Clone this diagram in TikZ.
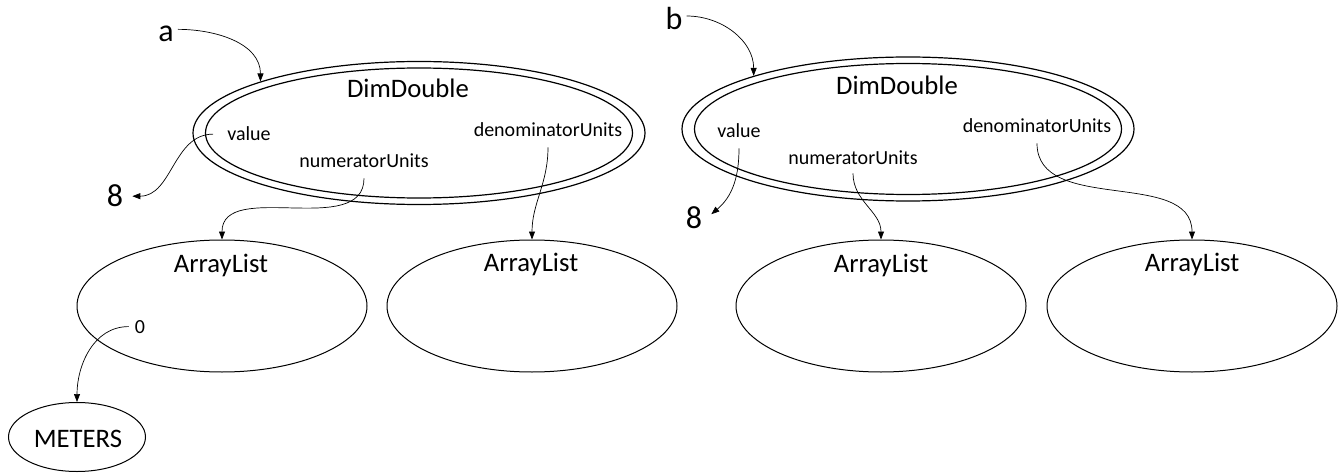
\documentclass[tikz,border=0pt]{standalone}
\usepackage{fontspec}
\setmainfont{Carlito}
\usetikzlibrary{arrows.meta,shapes.geometric}

\tikzset{
  obj/.style={draw, ellipse, inner sep=0pt, line width=1pt},
  dd/.style={obj, line width=1.2pt},
  al/.style={obj, minimum width=290pt, minimum height=132pt},
  big/.style={font=\fontsize{26.7}{32}\selectfont, anchor=base, inner sep=4pt},
  small/.style={font=\fontsize{20}{24}\selectfont, anchor=base, inner sep=4pt},
  var/.style={font=\fontsize{32}{38}\selectfont, anchor=base, inner sep=4pt},
  ref/.style={-{Triangle[length=8pt,width=6pt]}, line width=0.7pt},
}

\begin{document}
\begin{tikzpicture}[x=1pt,y=-1pt]
		\useasboundingbox (0,0) rectangle (1343,473);

		% Objeto a
		\node[dd, minimum width=452pt, minimum height=143pt] (ddA) at (419,133) {};
		\node[dd, minimum width=427pt, minimum height=130pt] (ddAin) at (419,133) {};
		\node[big] (ddAname) at (408,98) {DimDouble};
		\node[small] (valA) at (249,141) {value};
		\node[small] (numA) at (364,168) {numeratorUnits};
		\node[small] (denA) at (548,137) {denominatorUnits};
		\node[var] (varA) at (166,42) {a};
		\node[var] (eightA) at (115,207) {8};

		% Listas de a
		\node[al] (alA1) at (222,306) {};
		\node[big] (alA1name) at (221,272) {ArrayList};
		\node[small] (zeroA) at (140,333) {0};
		\node[al] (alA2) at (532,306) {};
		\node[big] (alA2name) at (531,271) {ArrayList};
		\node[obj, minimum width=137pt, minimum height=69pt] (meters) at (77,437) {};
		\node[big] (metersname) at (78,447) {METERS};

		% Objeto b
		\node[dd, minimum width=452pt, minimum height=144pt] (ddB) at (908,129) {};
		\node[dd, minimum width=427pt, minimum height=131pt] (ddBin) at (908,129) {};
		\node[big] (ddBname) at (897,95) {DimDouble};
		\node[small] (valB) at (739,138) {value};
		\node[small] (numB) at (853,165) {numeratorUnits};
		\node[small] (denB) at (1037,133) {denominatorUnits};
		\node[var] (varB) at (674,30) {b};
		\node[var] (eightB) at (694,228) {8};

		% Listas de b
		\node[al] (alB1) at (881,306) {};
		\node[big] (alB1name) at (881,272) {ArrayList};
		\node[al] (alB2) at (1192,306) {};
		\node[big] (alB2name) at (1192,271) {ArrayList};

		% Referencias de a
		\draw[ref] ([yshift=5pt]varA.east) to[out=0, in=90] (ddA.162);
		\draw[ref] ([xshift=-10pt]valA.west) to[out=180, in=0] ([xshift=5pt]eightA.east);
		\draw[ref] ([yshift=-6pt]numA.south) to[out=-90, in=90] (alA1.north);
		\draw[ref] ([yshift=-6pt]denA.south) to[out=-90, in=90] (alA2.north);
		\draw[ref] ([xshift=-2pt]zeroA.west) to[out=180, in=90] (meters.north);

		% Referencias de b
		\draw[ref] ([yshift=3pt]varB.east) to[out=0, in=90] (ddB.161);
		\draw[ref] ([yshift=-6pt]valB.south) to[out=-90, in=40] ([xshift=5pt,yshift=3pt]eightB.east);
		\draw[ref] ([yshift=-4pt]numB.south) to[out=-90, in=90] (alB1.north);
		\draw[ref] ([yshift=-6pt]denB.south) to[out=-90, in=90] (alB2.north);
	\end{tikzpicture}
\end{document}
